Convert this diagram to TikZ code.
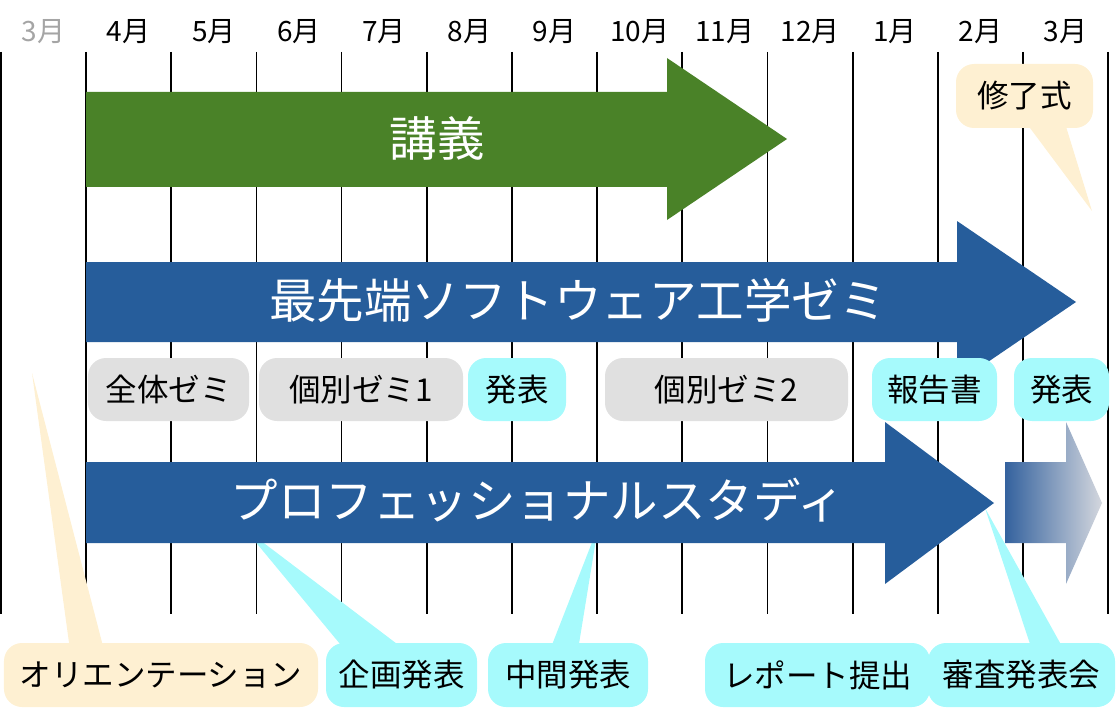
\documentclass[tikz,border=0pt]{standalone}
\usepackage{fontspec}
\setmainfont{Noto Sans CJK JP}
\definecolor{greenA}{RGB}{74,130,40}
\definecolor{blueA}{RGB}{38,93,155}
\definecolor{cyanB}{RGB}{166,250,252}
\definecolor{creamB}{RGB}{254,240,210}
\definecolor{grayB}{RGB}{224,224,224}
\definecolor{fadeStart}{RGB}{52,98,158}
\definecolor{fadeEnd}{RGB}{212,215,222}
\definecolor{monthGray}{RGB}{165,165,165}
\begin{document}
\begin{tikzpicture}[x=1bp,y=-1bp,
  month/.style={font=\fontsize{28bp}{32bp}\selectfont, anchor=center, inner sep=0pt},
  bubble/.style={rounded corners=18bp, minimum height=63bp, inner sep=0pt, font=\fontsize{31.5bp}{36bp}\selectfont, text=black},
  bigtext/.style={text=white, font=\fontsize{47.5bp}{52bp}\selectfont, inner sep=0pt},
  gridline/.style={line width=1.8bp, black},
]
\useasboundingbox (0,0) rectangle (1118,708);
% grid lines
\foreach \i in {0,...,13}
  \draw[gridline] ({0.9+85.17*\i},52) -- ({0.9+85.17*\i},614);
% month labels
\node[month, text=monthGray] (m0) at ({0.9+85.17*0.5},32) {3月};
\foreach \t [count=\i] in {4月,5月,6月,7月,8月,9月,10月,11月,12月,1月,2月,3月}
  \node[month] (m\i) at ({0.9+85.17*(\i+0.5)},32) {\t};
% callout tails
\coordinate (oriTip) at (32,373);
\coordinate (kikakuTip) at (244,528);
\coordinate (chukanTip) at (598,527);
\coordinate (shinsaTip) at (985,508);
\coordinate (shuryoTip) at (1092,211);
\fill[creamB] (70,650) -- (oriTip) -- (104,650) -- cycle;
\fill[cyanB] (345,650) -- (kikakuTip) -- (405,650) -- cycle;
\fill[cyanB] (550,650) -- (chukanTip) -- (578,650) -- cycle;
\fill[cyanB] (1032,650) -- (shinsaTip) -- (1064,650) -- cycle;
\fill[creamB] (1024,120) -- (shuryoTip) -- (1064,120) -- cycle;
% arrows
\fill[greenA] (86,92) -- (667,92) -- (667,58) -- (787,139) -- (667,220) -- (667,187) -- (86,187) -- cycle;
\fill[blueA] (86,262) -- (957,262) -- (957,221) -- (1076,302) -- (957,383) -- (957,342) -- (86,342) -- cycle;
\fill[blueA] (86,462) -- (885,462) -- (885,422) -- (994,503) -- (885,584) -- (885,543) -- (86,543) -- cycle;
\shade[left color=fadeStart, right color=fadeEnd] (1005,462) -- (1066,462) -- (1066,422) -- (1102,503) -- (1066,584) -- (1066,543) -- (1005,543) -- cycle;
\node[bigtext] (kogi) at (437,138) {講義};
\node[bigtext] (zemi) at (578,300) {最先端ソフトウェア工学ゼミ};
\node[bigtext] (pro) at (538,500) {プロフェッショナルスタディ};
% middle bubbles
\node[bubble, fill=grayB, minimum width=161bp] (zentai) at (168.5,389.5) {全体ゼミ};
\node[bubble, fill=grayB, minimum width=204bp] (kobetsu1) at (361,389.5) {個別ゼミ1};
\node[bubble, fill=cyanB, minimum width=98bp] (happyo1) at (517,389.5) {発表};
\node[bubble, fill=grayB, minimum width=243bp] (kobetsu2) at (726.5,389.5) {個別ゼミ2};
\node[bubble, fill=cyanB, minimum width=125bp] (houkoku) at (934.5,389.5) {報告書};
\node[bubble, fill=cyanB, minimum width=95bp] (happyo2) at (1061.5,389.5) {発表};
% bottom bubbles
\node[bubble, fill=creamB, minimum width=314bp, minimum height=64bp] (ori) at (161,675) {オリエンテーション};
\node[bubble, fill=cyanB, minimum width=151bp, minimum height=64bp] (kikaku) at (401.5,675) {企画発表};
\node[bubble, fill=cyanB, minimum width=160bp, minimum height=64bp] (chukan) at (568,675) {中間発表};
\node[bubble, fill=cyanB, minimum width=225bp, minimum height=64bp] (report) at (817.5,675) {レポート提出};
\node[bubble, fill=cyanB, minimum width=187bp, minimum height=64bp] (shinsa) at (1021.5,675) {審査発表会};
% top bubble
\node[bubble, fill=creamB, minimum width=137bp, minimum height=64bp] (shuryo) at (1024.5,96) {修了式};
\end{tikzpicture}
\end{document}
